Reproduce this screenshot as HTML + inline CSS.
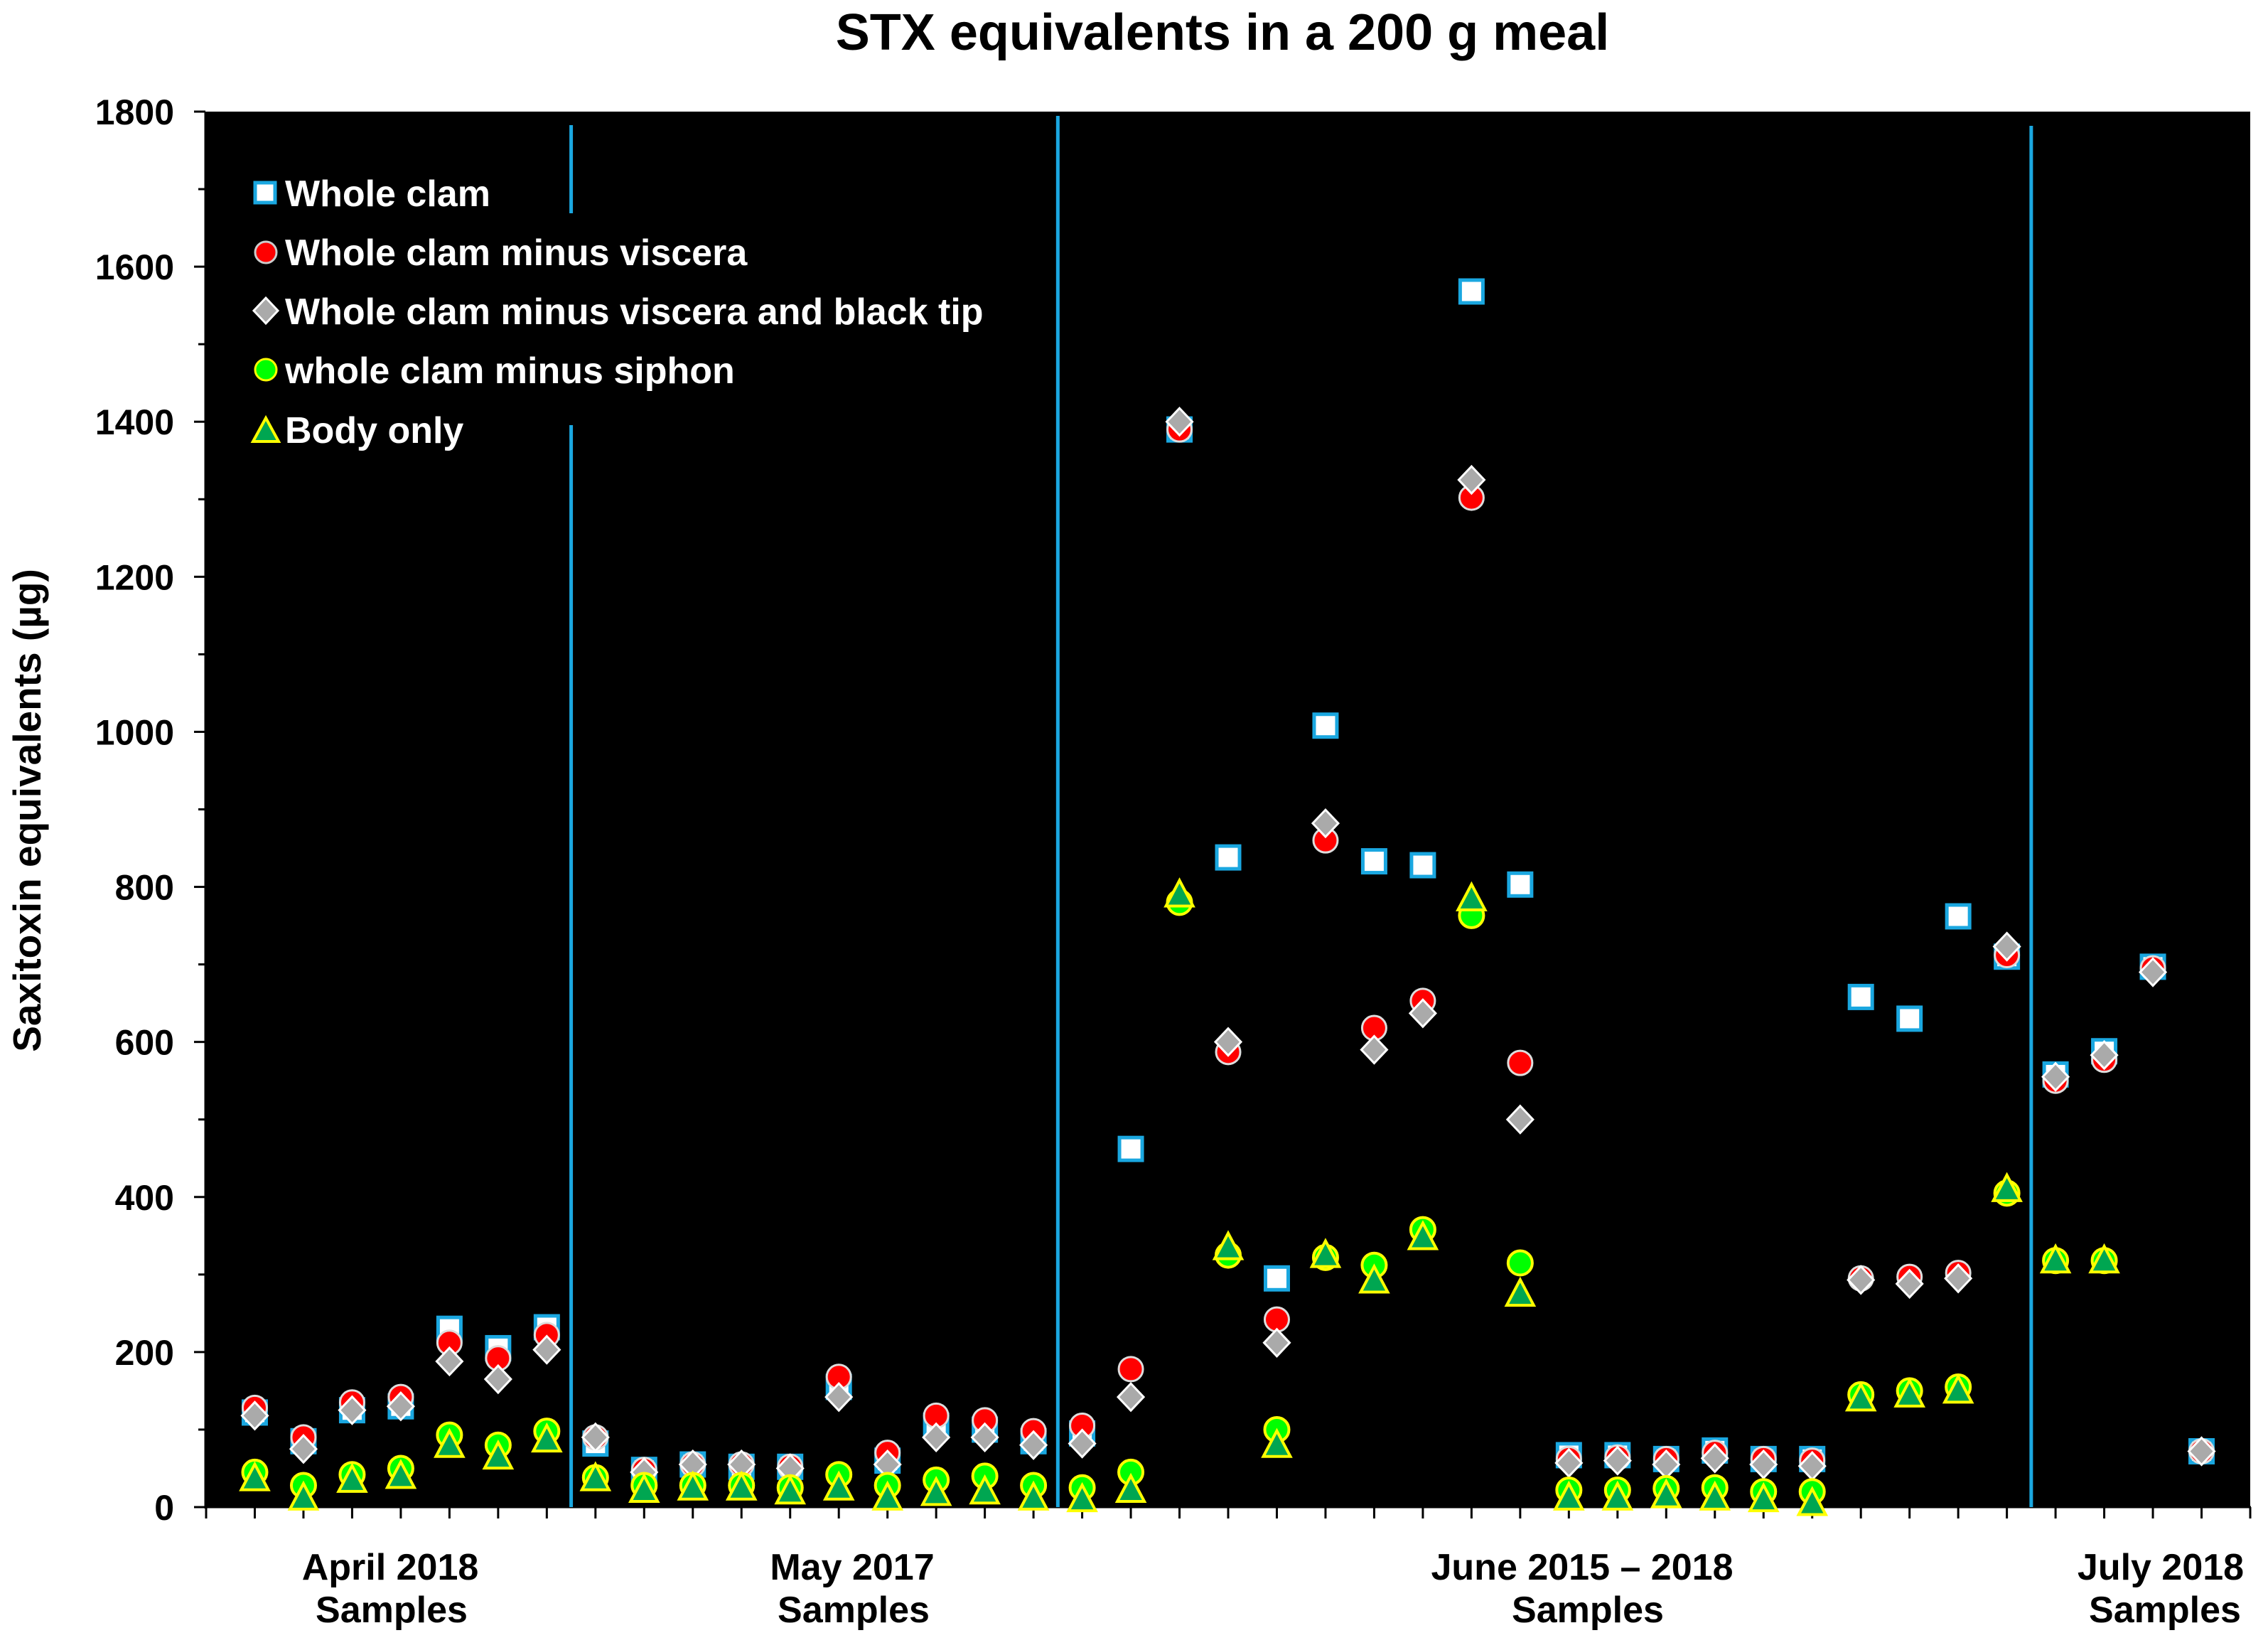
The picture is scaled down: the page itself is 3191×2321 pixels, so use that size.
<!DOCTYPE html>
<html><head><meta charset="utf-8"><style>
html,body{margin:0;padding:0;background:#fff}
svg{display:block}
text{font-family:"Liberation Sans",Arial,sans-serif;font-weight:bold}
</style></head><body>
<svg id="chart" width="3191" height="2321" viewBox="0 0 3191 2321" xmlns="http://www.w3.org/2000/svg">
<text x="1720" y="70" font-size="72" text-anchor="middle" fill="#000">STX equivalents in a 200 g meal</text>
<rect x="289" y="157" width="2877" height="1963" fill="#000"/>
<g id="axes"></g>
<g id="dividers"></g>
<g id="marks"></g>
<text transform="translate(57,1140) rotate(-90)" font-size="55" text-anchor="middle" fill="#000">Saxitoxin equivalents (µg)</text>
<g font-size="52" text-anchor="middle" fill="#000">
<text x="549" y="2222">April 2018</text>
<text x="551" y="2282">Samples</text>
<text x="1199" y="2222">May 2017</text>
<text x="1201" y="2282">Samples</text>
<text x="2226" y="2222">June 2015 – 2018</text>
<text x="2234" y="2282">Samples</text>
<text x="3040" y="2222">July 2018</text>
<text x="3046" y="2282">Samples</text>
</g>
<g font-size="52" fill="#fff">
<rect x="359" y="257" width="28" height="28" fill="#fff" stroke="#1aa7e0" stroke-width="5"/>
<text x="401" y="290">Whole clam</text>
<circle cx="374" cy="355" r="15" fill="#f00" stroke="#ccc" stroke-width="3"/>
<text x="401" y="373">Whole clam minus viscera</text>
<polygon points="374,419 391,437 374,455 357,437" fill="#aaa" stroke="#fff" stroke-width="3"/>
<text x="401" y="456">Whole clam minus viscera and black tip</text>
<circle cx="374" cy="520" r="15" fill="#0f0" stroke="#ff0" stroke-width="3"/>
<text x="401" y="539">whole clam minus siphon</text>
<polygon points="374,588 392,621 356,621" fill="#00a651" stroke="#ff0" stroke-width="4"/>
<text x="401" y="623">Body only</text>
</g>
</svg>
<script>
const categories = Array.from({length:41},(_,i)=>'S'+(i+1));
const wholeClam = [122,85,125,130,230,205,232, 82,48,55,52,52,155,60,105,100,85, 95,462,1390,838,295,1008,833,828,1568,803,67,67,62,73,62,62,658,630,762,710, 558,588,697,72];
const minusViscera = [128,90,135,142,212,192,222, 90,48,55,55,52,168,70,118,112,98, 105,178,1390,587,242,860,618,653,1302,573,62,64,62,70,62,60,295,297,302,712, 550,577,695,72];
const minusVisceraTip = [118,75,125,130,188,165,203, 90,45,55,55,50,142,55,90,90,80, 82,142,1400,600,212,882,590,637,1325,500,57,60,55,63,55,53,293,288,295,723, 555,583,690,72];
const minusSiphon = [45,28,42,50,93,80,98, 38,28,28,28,25,42,28,35,40,28, 25,45,780,325,100,322,312,358,763,315,22,22,24,25,20,20,145,150,155,405, 318,318,null,null];
const bodyOnly = [37,12,35,40,80,65,87, 37,22,25,25,20,25,12,18,20,12, 10,22,790,335,80,325,292,348,785,275,12,12,15,12,10,5,140,145,150,410, 318,318,null,null];
const yTicks = [0,200,400,600,800,1000,1200,1400,1600,1800];
const dividerPositions = [7.5,17.5,37.5];

const NS='http://www.w3.org/2000/svg';
const X0=290, DX=(3166-290)/42, Y0=2120, YTOP=157;
function xs(i){return X0+DX*(i+1);}
function ys(v){return Y0-(v/1800)*(Y0-YTOP);}
function mk(tag,attrs,parent){const e=document.createElementNS(NS,tag);for(const k in attrs)e.setAttribute(k,attrs[k]);parent.appendChild(e);return e;}
const axes=document.getElementById('axes');
mk('line',{x1:289,y1:157,x2:289,y2:2122,stroke:'#000','stroke-width':3},axes);
mk('line',{x1:289,y1:2120,x2:3167,y2:2120,stroke:'#000','stroke-width':3},axes);
for(let v=0;v<=1800;v+=100){
  const major=v%200===0;
  const t=mk('line',{x1:major?273:279,y1:ys(v),x2:289,y2:ys(v),stroke:'#000','stroke-width':3},axes);
  
  
}
yTicks.forEach(v=>{
  const t=mk('text',{x:245,y:ys(v)+18,'font-size':50,'text-anchor':'end',fill:'#000'},axes);
  t.textContent=v;
  
  
});
for(let i=0;i<=42;i++){
  const x=X0+DX*i;
  const t=mk('line',{x1:x,y1:2120,x2:x,y2:2136,stroke:'#000','stroke-width':3},axes);
  
  
}
const div=document.getElementById('dividers');
dividerPositions.forEach((p,k)=>{
  const x=X0+DX*p;
  if(k===0){
    const a=mk('line',{x1:x,y1:176,x2:x,y2:300,stroke:'#1aa7e0','stroke-width':5},div);
    
    
    const b=mk('line',{x1:x,y1:598,x2:x,y2:2120,stroke:'#1aa7e0','stroke-width':5},div);
    
    
  } else {
    const a=mk('line',{x1:x,y1:k===1?163:177,x2:x,y2:2120,stroke:'#1aa7e0','stroke-width':5},div);
    
    
  }
});
const g=document.getElementById('marks');
wholeClam.forEach((v,i)=>{ if(v==null)return;
  const e=mk('rect',{x:xs(i)-16,y:ys(v)-16,width:32,height:32,fill:'#fff',stroke:'#1aa7e0','stroke-width':5},g);
  
  
});
minusViscera.forEach((v,i)=>{ if(v==null)return;
  const e=mk('circle',{cx:xs(i),cy:ys(v),r:17,fill:'#f00',stroke:'#ddd','stroke-width':3},g);
  
  
});
minusVisceraTip.forEach((v,i)=>{ if(v==null)return;
  const x=xs(i),y=ys(v);
  const e=mk('polygon',{points:`${x},${y-19} ${x+18},${y} ${x},${y+19} ${x-18},${y}`,fill:'#aaa',stroke:'#fff','stroke-width':3},g);
  
  
});
minusSiphon.forEach((v,i)=>{ if(v==null)return;
  const e=mk('circle',{cx:xs(i),cy:ys(v),r:17,fill:'#0f0',stroke:'#ff0','stroke-width':4},g);
  
  
});
bodyOnly.forEach((v,i)=>{ if(v==null)return;
  const x=xs(i),y=ys(v);
  const e=mk('polygon',{points:`${x},${y-20} ${x+19},${y+16} ${x-19},${y+16}`,fill:'#00a651',stroke:'#ff0','stroke-width':4},g);
  
  
});
</script>
</body></html>
